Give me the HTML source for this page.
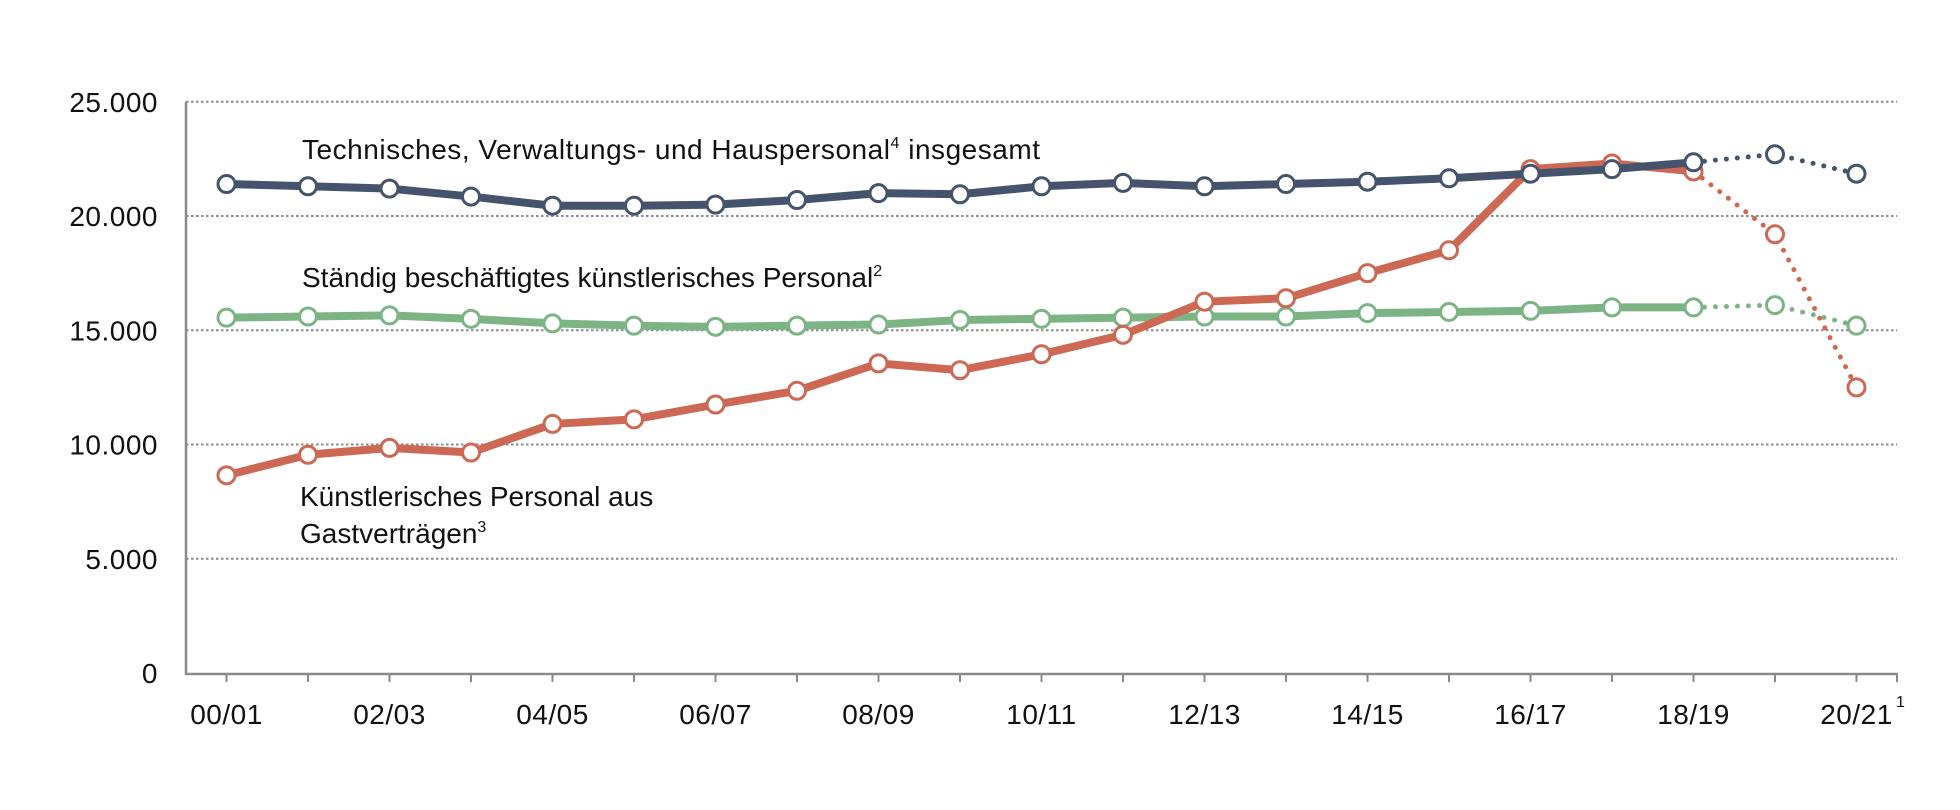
<!DOCTYPE html>
<html><head><meta charset="utf-8"><style>
html,body{margin:0;padding:0;background:#fff;}
svg{display:block;font-family:"Liberation Sans",sans-serif;}
</style></head><body>
<svg id="c" width="1960" height="810" viewBox="0 0 1960 810" xmlns="http://www.w3.org/2000/svg"></svg>
<script>
const s=document.getElementById('c');
const X=i=>226.5+i*81.5, Y=v=>673-v*0.02285;
let h='';
[5000,10000,15000,20000,25000].forEach(v=>{h+=`<line x1="186" x2="1897" y1="${Y(v)}" y2="${Y(v)}" stroke="#8a8a8a" stroke-width="2" stroke-dasharray="2.5 2.5"/>`;});
const yl=['0','5.000','10.000','15.000','20.000','25.000'];
yl.forEach((t,k)=>{h+=`<text x="158" y="${Y(k*5000)+10}" font-size="28" letter-spacing="0.5" text-anchor="end" fill="#111">${t}</text>`;});
h+=`<line x1="186" x2="186" y1="${Y(25000)}" y2="675" stroke="#8a8a8a" stroke-width="2.5"/>`;
h+=`<line x1="185" x2="1898" y1="674" y2="674" stroke="#8a8a8a" stroke-width="2.5"/>`;
for(let i=0;i<=20;i++){h+=`<line x1="${X(i)}" x2="${X(i)}" y1="674" y2="682" stroke="#8a8a8a" stroke-width="2"/>`;}
h+=`<line x1="1897" x2="1897" y1="674" y2="682" stroke="#8a8a8a" stroke-width="2"/>`;
const xl=['00/01','02/03','04/05','06/07','08/09','10/11','12/13','14/15','16/17','18/19','20/21'];
xl.forEach((t,k)=>{h+=`<text x="${X(2*k)}" y="724" font-size="28" letter-spacing="0.5" text-anchor="middle" fill="#111">${t}</text>`;});
h+=`<text x="1896" y="707" font-size="16" fill="#111">1</text>`;
const G=[15.55,15.6,15.65,15.5,15.3,15.2,15.15,15.2,15.25,15.45,15.5,15.55,15.6,15.6,15.75,15.8,15.85,16.0,16.0,16.1,15.2];
const R=[8.65,9.55,9.85,9.65,10.9,11.1,11.75,12.35,13.55,13.25,13.95,14.8,16.25,16.4,17.5,18.5,22.05,22.3,21.95,19.2,12.5];
const B=[21.4,21.3,21.2,20.85,20.45,20.45,20.5,20.7,21.0,20.95,21.3,21.45,21.3,21.4,21.5,21.65,21.85,22.05,22.35,22.7,21.85];
function ser(d,c){
 let p=d.slice(0,19).map((v,i)=>`${X(i)},${Y(v*1000)}`).join(' ');
 let q=d.slice(18).map((v,i)=>`${X(i+18)},${Y(v*1000)}`).join(' ');
 let o=`<polyline points="${q}" fill="none" stroke="${c}" stroke-width="5" stroke-linecap="round" stroke-dasharray="0 11"/>`;
 o+=`<polyline points="${p}" fill="none" stroke="${c}" stroke-width="8" stroke-linejoin="round"/>`;
 d.forEach((v,i)=>{o+=`<circle cx="${X(i)}" cy="${Y(v*1000)}" r="8.5" fill="#fff" stroke="${c}" stroke-width="3"/>`;});
 return o;
}
h+=ser(G,'#7cb485');
h+=ser(R,'#cc6853');
h+=ser(B,'#45546c');
h+=`<text x="302" y="159" font-size="28" fill="#111" textLength="738" lengthAdjust="spacing">Technisches, Verwaltungs- und Hauspersonal<tspan font-size="16" dy="-11">4</tspan><tspan dy="11"> insgesamt</tspan></text>`;
h+=`<text x="302" y="287" font-size="28" fill="#111">Ständig beschäftigtes künstlerisches Personal<tspan font-size="16" dy="-11">2</tspan></text>`;
h+=`<text x="300" y="506" font-size="28" fill="#111">Künstlerisches Personal aus</text>`;
h+=`<text x="300" y="543" font-size="28" fill="#111">Gastverträgen<tspan font-size="16" dy="-11">3</tspan></text>`;
s.innerHTML=h;
</script>
</body></html>
